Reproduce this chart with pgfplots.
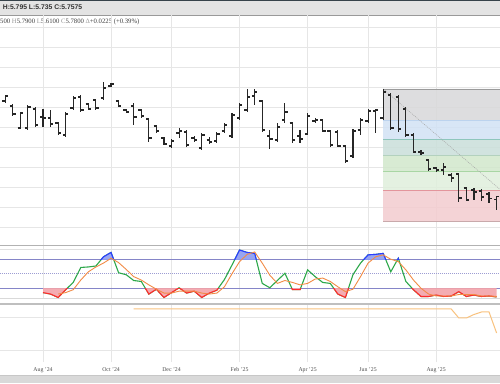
\documentclass[border=0pt]{standalone}
\usepackage{pgfplots}
\pgfplotsset{compat=1.18}
\usepackage{pgfplotstable}
\usepackage{fontspec}
\setmainfont{Liberation Serif}
\newfontfamily\hdr{Liberation Sans}

\definecolor{hdrgray}{HTML}{E3E3E3}
\definecolor{hdrdark}{HTML}{36424A}
\definecolor{gridc}{HTML}{E6E6E6}
\definecolor{barc}{HTML}{262626}
\definecolor{kgreen}{HTML}{2DA84A}
\definecolor{kred}{HTML}{FF2B2B}
\definecolor{kblue}{HTML}{2B3DFF}
\definecolor{dorange}{HTML}{F28B45}
\definecolor{lorange}{HTML}{F9C27E}
\definecolor{lvl}{HTML}{8585C8}
\definecolor{pinkfill}{HTML}{F3A3AA}
\definecolor{bluefill}{HTML}{8C9CF2}
\definecolor{fgray}{HTML}{D8D8DA}
\definecolor{fblue}{HTML}{D2E2F5}
\definecolor{fteal}{HTML}{CADFDA}
\definecolor{fgreen}{HTML}{D2E8CC}
\definecolor{flgreen}{HTML}{E0EFDC}
\definecolor{fpink}{HTML}{F3CCCF}
\definecolor{lA}{HTML}{9A9A9A}
\definecolor{lB}{HTML}{BCD3EE}
\definecolor{lC}{HTML}{8EC6BC}
\definecolor{lD}{HTML}{B3D1BE}
\definecolor{lE}{HTML}{A9D6A4}
\definecolor{lF}{HTML}{E3959C}
\definecolor{lG}{HTML}{C9A9AB}

\pgfdeclareplotmark{otick}{\pgfpathmoveto{\pgfqpoint{-2.8pt}{0pt}}\pgfpathlineto{\pgfqpoint{0pt}{0pt}}\pgfusepathqstroke}
\pgfdeclareplotmark{ctick}{\pgfpathmoveto{\pgfqpoint{0pt}{0pt}}\pgfpathlineto{\pgfqpoint{2.8pt}{0pt}}\pgfusepathqstroke}

\pgfplotstableread{
i o h l c
-6 6.94 6.99 6.8025 6.865
-5 6.9775 7.0525 6.9525 7.04
-4 6.915 6.94 6.79 6.815
-3 6.64 6.84 6.6275 6.8275
-2 6.64 6.9275 6.615 6.9025
-1 6.8775 6.9025 6.6525 6.6775
0 6.7775 6.8775 6.6525 6.765
1 6.765 6.865 6.6525 6.69
2 6.7025 6.715 6.5525 6.5775
3 6.5525 6.84 6.5275 6.815
4 6.89 7.04 6.865 7.015
5 7.0275 7.0525 6.84 6.865
6 6.94 6.9525 6.865 6.8775
7 6.99 7.0025 6.865 6.89
8 7.015 7.215 6.99 7.14
9 7.165 7.2025 7.1525 7.19
10 6.9775 6.99 6.9025 6.915
11 6.865 6.8775 6.8275 6.84
12 6.915 6.9525 6.6775 6.7775
13 6.865 6.8775 6.765 6.79
14 6.7525 6.765 6.465 6.515
15 6.665 6.6775 6.5775 6.6025
16 6.515 6.5275 6.4275 6.44
17 6.415 6.5025 6.39 6.4775
18 6.5775 6.64 6.515 6.6025
19 6.59 6.615 6.4025 6.4275
20 6.515 6.54 6.465 6.49
21 6.39 6.5775 6.365 6.5525
22 6.49 6.5275 6.44 6.465
23 6.4775 6.59 6.4525 6.565
24 6.6025 6.7025 6.5775 6.6775
25 6.54 6.8275 6.515 6.8025
26 6.765 6.9525 6.74 6.9275
27 6.865 7.1275 6.84 7.0275
28 7.04 7.1275 6.9275 7.09
29 6.9775 6.99 6.59 6.615
30 6.54 6.615 6.3775 6.5025
31 6.49 6.7025 6.465 6.6525
32 6.74 6.9525 6.7025 6.84
33 6.7025 6.715 6.4525 6.49
34 6.54 6.615 6.4525 6.5025
35 6.565 6.8275 6.5525 6.79
36 6.7275 6.765 6.7025 6.74
37 6.74 6.7525 6.59 6.6025
38 6.6025 6.615 6.4025 6.4275
39 6.59 6.615 6.4025 6.415
40 6.415 6.4275 6.2025 6.2275
41 6.29 6.6275 6.265 6.6025
42 6.615 6.765 6.5525 6.74
43 6.7275 6.8775 6.7025 6.8525
44 6.8525 6.8775 6.5775 6.865
45 6.765 7.1275 6.74 7.09
46 7.0525 7.0775 6.615 6.64
47 7.0275 7.0525 6.59 6.6275
48 6.8775 6.9025 6.5275 6.5525
49 6.5525 6.5775 6.3275 6.34
50 6.34 6.365 6.3025 6.3275
51 6.24 6.2525 6.1025 6.1275
52 6.14 6.1525 6.09 6.115
53 6.115 6.2025 6.0525 6.1525
54 6.0525 6.0775 5.965 6.015
55 6.065 6.0775 5.715 5.765
56 5.89 5.9025 5.7275 5.74
57 5.865 5.89 5.74 5.84
58 5.8525 5.8775 5.7275 5.7775
59 5.815 5.84 5.7025 5.7575
60 5.75 5.79 5.61 5.78
}\ohlc

\pgfplotstableread{
i k
0 11
1 8
2 1
3 17
4 32
5 63
6 64
7 66
8 85
9 94
10 52
11 48
12 36
13 34
14 8
15 18
16 1
17 11
18 21
19 10
20 14
21 1
22 10
23 16
24 38
25 68
26 99
27 94
28 92
29 30
30 21
31 36
32 51
33 17
34 17
35 58
36 44
37 32
38 30
39 8
40 1
41 48
42 72
43 89
44 90
45 92
46 54
47 82
48 34
49 17
50 3
51 3
52 6
53 3
54 4
55 13
56 3
57 6
58 3
59 4
60 2
}\stochK

\pgfplotstableread{
i d
2 8
3 11
4 17
5 37
6 54
7 64
8 72
9 82
10 73
11 59
12 44
13 37
14 27
15 18
16 10
17 10
18 14
19 14
20 14
21 10
22 8
23 10
24 23
25 50
26 75
27 90
28 95
29 72
30 47
31 30
32 36
33 32
34 27
35 30
36 39
37 41
38 34
39 23
40 13
41 18
42 44
43 72
44 85
45 89
46 80
47 75
48 58
49 37
50 20
51 8
52 4
53 4
54 4
55 7
56 7
57 7
58 4
59 4
60 3
}\stochD

\pgfplotsset{panel/.style={scale only axis, width=500pt, anchor=south west,
  xmin=-5.6878, xmax=60.45, axis line style={draw=none}, tick style={draw=none},
  major tick length=0pt, xtick={0,9,17,26,35,43,52,61}, xticklabels={},
  yticklabels={}, xmajorgrids, grid style={gridc, line width=0.9pt}},
  stoch/.style={scale only axis, width=500pt, anchor=south west,
  xmin=-5.6878, xmax=60.45, hide axis, at={(0pt,84.6pt)}, height=53.4pt, ymin=-1, ymax=109.4}}

\begin{document}
\begin{tikzpicture}
\fill[white] (0pt,0pt) rectangle (500pt,383pt);
% header
\fill[hdrgray] (0pt,368pt) rectangle (500pt,381.5pt);
\fill[hdrdark] (0pt,381.5pt) rectangle (500pt,383pt);
\draw[black!40, line width=0.8pt] (0pt,368pt) -- (500pt,368pt);
\node[anchor=base west, inner sep=0, text=black!80, font=\hdr\bfseries\fontsize{6.8}{8}\selectfont] at (2.7pt,373.6pt) {H:5.795 L:5.735 C:5.7575};
\node[anchor=base west, inner sep=0, text=black!75, font=\fontsize{6.7}{8}\selectfont] at (0pt,359pt) {500 {\color{black!40}H}5.7900 {\color{black!40}L}5.6100 {\color{black!40}C}5.7800 {\color{black!40}Δ}+0.0225 (+0.39\%)};

% price panel
\begin{axis}[panel, at={(0pt,138pt)}, height=230pt, ymin=5.1775, ymax=8.0525,
  ytick={5.40,5.65,5.90,6.15,6.40,6.65,6.90,7.15,7.40,7.65,7.90}, ymajorgrids]
\addplot[fill=fgray, draw=none, fill opacity=0.85] coordinates {(45,7.1275) (61,7.1275) (61,6.736) (45,6.736) (45,7.1275)};
\addplot[fill=fblue, draw=none, fill opacity=0.85] coordinates {(45,6.736) (61,6.736) (61,6.494) (45,6.494) (45,6.736)};
\addplot[fill=fteal, draw=none, fill opacity=0.85] coordinates {(45,6.494) (61,6.494) (61,6.298) (45,6.298) (45,6.494)};
\addplot[fill=fgreen, draw=none, fill opacity=0.85] coordinates {(45,6.298) (61,6.298) (61,6.1025) (45,6.1025) (45,6.298)};
\addplot[fill=flgreen, draw=none, fill opacity=0.85] coordinates {(45,6.1025) (61,6.1025) (61,5.86) (45,5.86) (45,6.1025)};
\addplot[fill=fpink, draw=none, fill opacity=0.85] coordinates {(45,5.86) (61,5.86) (61,5.469) (45,5.469) (45,5.86)};
\addplot[lA, line width=0.7pt] coordinates {(45,7.1275) (61,7.1275)};
\addplot[lB, line width=0.7pt] coordinates {(45,6.736) (61,6.736)};
\addplot[lC, line width=0.7pt] coordinates {(45,6.494) (61,6.494)};
\addplot[lD, line width=0.7pt] coordinates {(45,6.298) (61,6.298)};
\addplot[lE, line width=0.7pt] coordinates {(45,6.1025) (61,6.1025)};
\addplot[lF, line width=0.7pt] coordinates {(45,5.86) (61,5.86)};
\addplot[lG, line width=0.7pt] coordinates {(45,5.469) (61,5.469)};
\addplot[black!35, line width=0.5pt, dash pattern=on 1pt off 1pt] coordinates {(45,7.1275) (61,5.8275)};
% OHLC bars
\addplot[only marks, mark=ctick, mark options={barc, line width=1.15pt},
  error bars/.cd, y dir=both, y explicit, error mark=none,
  error bar style={barc, line width=1.15pt}]
  table[x=i, y=c, y error plus expr=\thisrow{h}-\thisrow{c}, y error minus expr=\thisrow{c}-\thisrow{l}] {\ohlc};
\addplot[only marks, mark=otick, mark options={barc, line width=1.15pt}] table[x=i, y=o] {\ohlc};
\end{axis}

% stochastic panel: levels and green line
\begin{axis}[panel, at={(0pt,84.6pt)}, height=53.4pt, ymin=-1, ymax=109.4, ytick=\empty]
\addplot[black!12, line width=0.8pt] coordinates {(-6,100) (61,100)};
\addplot[black!15, line width=0.6pt] coordinates {(-6,-0.6) (61,-0.6)};
\addplot[lvl, line width=0.7pt] coordinates {(-6,80) (61,80)};
\addplot[lvl, line width=0.7pt] coordinates {(-6,20) (61,20)};
\addplot[lvl!80, line width=0.7pt, dash pattern=on 1.2pt off 1.2pt on 0.4pt off 1.2pt] coordinates {(-6,50) (61,50)};
\addplot[kgreen, line width=1.1pt] table[x=i, y=k] {\stochK};
\end{axis}
% oversold part (below 20): area above %K clipped to below the 20 line
\begin{scope}
\clip (0pt,60pt) rectangle (500pt,94.76pt);
\begin{axis}[stoch]
\addplot[fill=pinkfill, draw=none, fill opacity=0.9] coordinates {(0,109) (0,11) (1,8) (2,1) (3,17) (4,32) (5,63) (6,64) (7,66) (8,85) (9,94) (10,52) (11,48) (12,36) (13,34) (14,8) (15,18) (16,1) (17,11) (18,21) (19,10) (20,14) (21,1) (22,10) (23,16) (24,38) (25,68) (26,99) (27,94) (28,92) (29,30) (30,21) (31,36) (32,51) (33,17) (34,17) (35,58) (36,44) (37,32) (38,30) (39,8) (40,1) (41,48) (42,72) (43,89) (44,90) (45,92) (46,54) (47,82) (48,34) (49,17) (50,3) (51,3) (52,6) (53,3) (54,4) (55,13) (56,3) (57,6) (58,3) (59,4) (60,2) (60,109) (0,109)};
\addplot[kred, line width=1.1pt] table[x=i, y=k] {\stochK};
\end{axis}
\end{scope}
% overbought part (above 80): area below %K clipped to above the 80 line
\begin{scope}
\clip (0pt,123.78pt) rectangle (500pt,140pt);
\begin{axis}[stoch]
\addplot[fill=bluefill, draw=none, fill opacity=0.9] coordinates {(0,0) (0,11) (1,8) (2,1) (3,17) (4,32) (5,63) (6,64) (7,66) (8,85) (9,94) (10,52) (11,48) (12,36) (13,34) (14,8) (15,18) (16,1) (17,11) (18,21) (19,10) (20,14) (21,1) (22,10) (23,16) (24,38) (25,68) (26,99) (27,94) (28,92) (29,30) (30,21) (31,36) (32,51) (33,17) (34,17) (35,58) (36,44) (37,32) (38,30) (39,8) (40,1) (41,48) (42,72) (43,89) (44,90) (45,92) (46,54) (47,82) (48,34) (49,17) (50,3) (51,3) (52,6) (53,3) (54,4) (55,13) (56,3) (57,6) (58,3) (59,4) (60,2) (60,0) (0,0)};
\addplot[kblue, line width=1.1pt] table[x=i, y=k] {\stochK};
\end{axis}
\end{scope}
\begin{axis}[stoch]
\addplot[dorange, line width=0.9pt] table[x=i, y=d] {\stochD};
\end{axis}

% third panel
\begin{axis}[panel, at={(0pt,21pt)}, height=58pt, ymin=0, ymax=58, ytick={12,45}, ymajorgrids,
  xticklabels={Aug '24,Oct '24,Dec '24,Feb '25,Apr '25,Jun '25,Aug '25,Oct '25},
  xticklabel style={anchor=base, yshift=-9pt, font=\fontsize{5.8}{7}\selectfont, text=black!70}]
\addplot[lorange, line width=1pt] coordinates {(12,53) (54,53) (55,44) (56,44) (57,47.5) (58,50) (59,50) (60,29)};
\end{axis}

% separators and bottom bar
\draw[black!30, line width=1pt] (0pt,138pt) -- (500pt,138pt);
\draw[black!25, line width=0.7pt] (0pt,80pt) -- (500pt,80pt);
\draw[black!25, line width=0.7pt] (0pt,78.3pt) -- (500pt,78.3pt);
\fill[black!15] (0pt,0pt) rectangle (500pt,8pt);
\draw[black!22, line width=0.6pt] (0pt,8pt) -- (500pt,8pt);
\pgfresetboundingbox
\path[use as bounding box] (0pt,0pt) rectangle (500pt,383pt);
\end{tikzpicture}
\end{document}
